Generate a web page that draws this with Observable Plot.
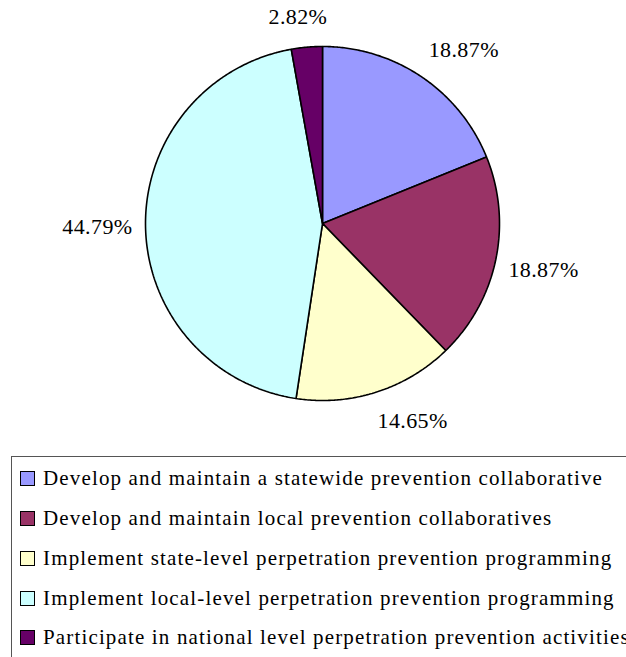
<!DOCTYPE html>
<html>
<head>
<meta charset="utf-8">
<script src="https://cdn.jsdelivr.net/npm/d3@7"></script>
<script src="https://cdn.jsdelivr.net/npm/@observablehq/plot@0.6"></script>
<style>
  html, body { margin: 0; padding: 0; background: #fff; overflow: hidden; width: 626px; height: 657px; }
  #wrap { position: relative; width: 626px; height: 657px; }
  #chart svg { display: block; }
  #chart svg text { font-family: "Liberation Serif", "Times New Roman", serif; }
  #legend { position: absolute; left: 11px; top: 456px; width: 700px; height: 300px;
            border: 1px solid #555; box-sizing: border-box; padding-top: 2px;
            font-family: "Liberation Serif", "Times New Roman", serif; font-size: 21px; letter-spacing: 1.15px; color: #000; }
  .row { height: 39.75px; display: flex; align-items: center; white-space: nowrap; }
  .sw { width: 15px; height: 15px; box-sizing: border-box; border: 1.5px solid #000; margin-left: 8px; margin-right: 8px; flex: none; }
</style>
</head>
<body>
<div id="wrap">
  <div id="chart"></div>
  <div id="legend"></div>
</div>
<script>
// ---- data ----
const categories = [
  "Develop and maintain a statewide prevention collaborative",
  "Develop and maintain local prevention collaboratives",
  "Implement state-level perpetration prevention programming",
  "Implement local-level perpetration prevention programming",
  "Participate in national level perpetration prevention activities"
];
const percents = [18.87, 18.87, 14.65, 44.79, 2.82];
const labels = ["18.87%", "18.87%", "14.65%", "44.79%", "2.82%"];
const colors = ["#9999FF", "#993366", "#FFFFCC", "#CCFFFF", "#660066"];

// ---- geometry in data units (unit circle) ----
const R = 177; // pixels per unit
const total = d3.sum(percents);
let cum = 0;
const slicePts = [];
const labelRows = [];
percents.forEach((p, i) => {
  const a0 = cum / total * 2 * Math.PI;
  cum += p;
  const a1 = cum / total * 2 * Math.PI;
  const n = Math.max(2, Math.ceil((a1 - a0) / (Math.PI / 360)));
  slicePts.push({cat: categories[i], x: 0, y: 0});
  for (let k = 0; k <= n; k++) {
    const a = a0 + (a1 - a0) * k / n;
    slicePts.push({cat: categories[i], x: Math.sin(a), y: Math.cos(a)});
  }
  slicePts.push({cat: categories[i], x: 0, y: 0});
  // label placement: outside end
  const m = (a0 + a1) / 2;
  const s = Math.sin(m), c = Math.cos(m);
  const f = v => Math.max(-1, Math.min(1, 3 * v));
  const gx = 1 + 13 / R, gy = 1 + 20 / R;
  const w = 11.7 * labels[i].length, h = 20;
  labelRows.push({
    text: labels[i],
    x: gx * s + (w / 2) * f(s) / R,
    y: gy * c + (h / 2) * f(c) / R
  });
});

const W = 626, H = 450;
const chart = Plot.plot({
  width: W,
  height: H,
  marginLeft: 145,
  marginRight: 127,
  marginTop: 46,
  marginBottom: 50,
  x: {domain: [-1, 1], axis: null},
  y: {domain: [-1, 1], axis: null},
  color: {domain: categories, range: colors},
  style: {background: "#fff"},
  marks: [
    Plot.line(slicePts, {x: "x", y: "y", z: "cat", fill: "cat", stroke: "#000", strokeWidth: 1.6, strokeLinejoin: "miter", curve: "linear"}),
    Plot.text(labelRows, {x: "x", y: "y", text: "text", fontSize: 22, fontFamily: "Liberation Serif", fill: "#000", textAnchor: "middle", lineAnchor: "middle"})
  ]
});
document.getElementById("chart").appendChild(chart);
chart.querySelectorAll("text").forEach(t => t.setAttribute("letter-spacing", "0.4"));

// ---- legend ----
const legend = document.getElementById("legend");
categories.forEach((cat, i) => {
  const row = document.createElement("div");
  row.className = "row";
  const sw = document.createElement("span");
  sw.className = "sw";
  sw.style.background = colors[i];
  const t = document.createElement("span");
  t.textContent = cat;
  row.appendChild(sw);
  row.appendChild(t);
  legend.appendChild(row);
});
</script>
</body>
</html>
